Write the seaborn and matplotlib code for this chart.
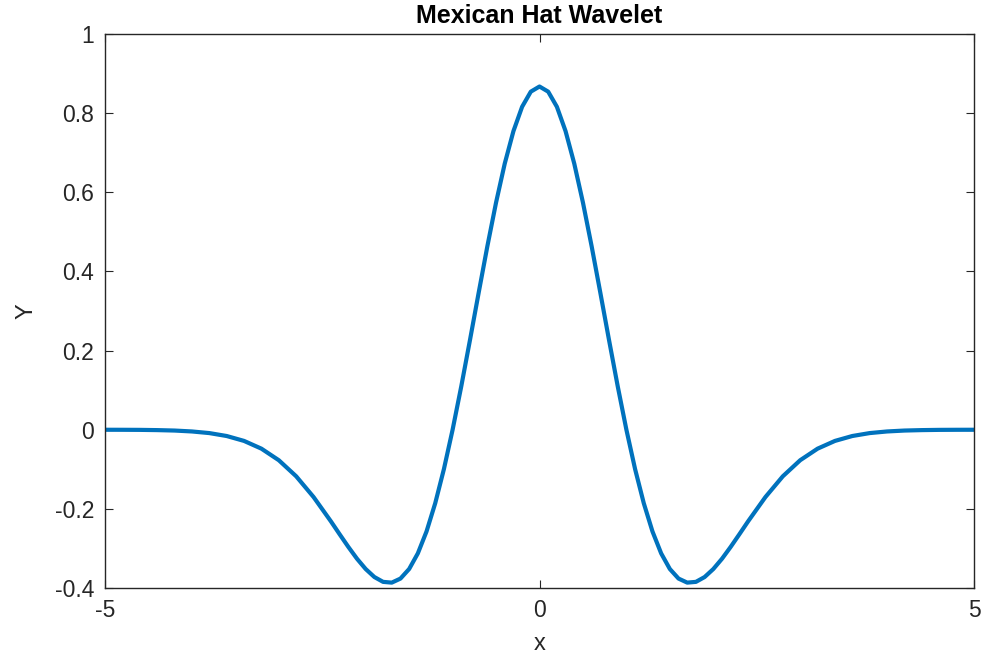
import matplotlib
matplotlib.use("Agg")
import matplotlib.pyplot as plt
import seaborn as sns
import pandas as pd

x_values = [-5.0, -4.8, -4.6, -4.4, -4.2, -4.0, -3.8, -3.6, -3.4, -3.2, -3.0, -2.8, -2.6, -2.4,
            -2.3, -2.2, -2.1, -2.0, -1.9, -1.8, -1.7, -1.6, -1.5, -1.4, -1.3, -1.2, -1.1, -1.0,
            -0.9, -0.8, -0.7, -0.6, -0.5, -0.4, -0.3, -0.2, -0.1, 0.0,
            0.1, 0.2, 0.3, 0.4, 0.5, 0.6, 0.7, 0.8, 0.9, 1.0,
            1.1, 1.2, 1.3, 1.4, 1.5, 1.6, 1.7, 1.8, 1.9, 2.0, 2.1, 2.2, 2.3,
            2.4, 2.6, 2.8, 3.0, 3.2, 3.4, 3.6, 3.8, 4.0, 4.2, 4.4, 4.6, 4.8, 5.0]
y_values = [-0.0001, -0.0002, -0.0004, -0.0010, -0.0021, -0.0044, -0.0085, -0.0159, -0.0283, -0.0479, -0.0771, -0.1177, -0.1701, -0.2317,
            -0.2642, -0.2961, -0.3261, -0.3521, -0.3723, -0.3845, -0.3864, -0.3762, -0.3520, -0.3125, -0.2571, -0.1858, -0.0995, 0.0,
            0.1099, 0.2267, 0.3462, 0.4636, 0.5740, 0.6725, 0.7545, 0.8161, 0.8543, 0.8673,
            0.8543, 0.8161, 0.7545, 0.6725, 0.5740, 0.4636, 0.3462, 0.2267, 0.1099, 0.0,
            -0.0995, -0.1858, -0.2571, -0.3125, -0.3520, -0.3762, -0.3864, -0.3845, -0.3723, -0.3521, -0.3261, -0.2961, -0.2642,
            -0.2317, -0.1701, -0.1177, -0.0771, -0.0479, -0.0283, -0.0159, -0.0085, -0.0044, -0.0021, -0.0010, -0.0004, -0.0002, -0.0001]
x_ticks = [-5, 0, 5]
y_ticks = [-0.4, -0.2, 0, 0.2, 0.4, 0.6, 0.8, 1]
y_tick_labels = ["-0.4", "-0.2", "0", "0.2", "0.4", "0.6", "0.8", "1"]

df = pd.DataFrame({"x": x_values, "Y": y_values})

sns.set_style("white")
plt.rcParams["font.family"] = ["Liberation Sans", "DejaVu Sans"]

fig = plt.figure(figsize=(9.85, 6.56), dpi=100)
ax = fig.add_axes([105/985, 1 - 588/656, (974 - 105)/985, (588 - 34)/656])

sns.lineplot(data=df, x="x", y="Y", ax=ax, color="#0072BD", linewidth=3, sort=False)

ax.set_xlim(-5, 5)
ax.set_ylim(-0.4, 1)
ax.set_xticks(x_ticks)
ax.set_xticklabels([str(t) for t in x_ticks])
ax.set_yticks(y_ticks)
ax.set_yticklabels(y_tick_labels)

edge = "#262626"
for s in ax.spines.values():
    s.set_visible(True)
    s.set_color(edge)
    s.set_linewidth(1.0)
ax.tick_params(direction="in", length=6, width=0.8, colors=edge, labelsize=16.5,
               top=True, right=True, bottom=True, left=True, pad=8)
ax.tick_params(axis="x", pad=8)

ax.set_xlabel("x", fontsize=17, color=edge, labelpad=8)
ax.set_ylabel("Y", fontsize=17, color=edge, labelpad=12)
ax.set_title("Mexican Hat Wavelet", fontsize=18, fontweight="bold", color="black", pad=8)

fig.savefig("out.png", dpi=100)
